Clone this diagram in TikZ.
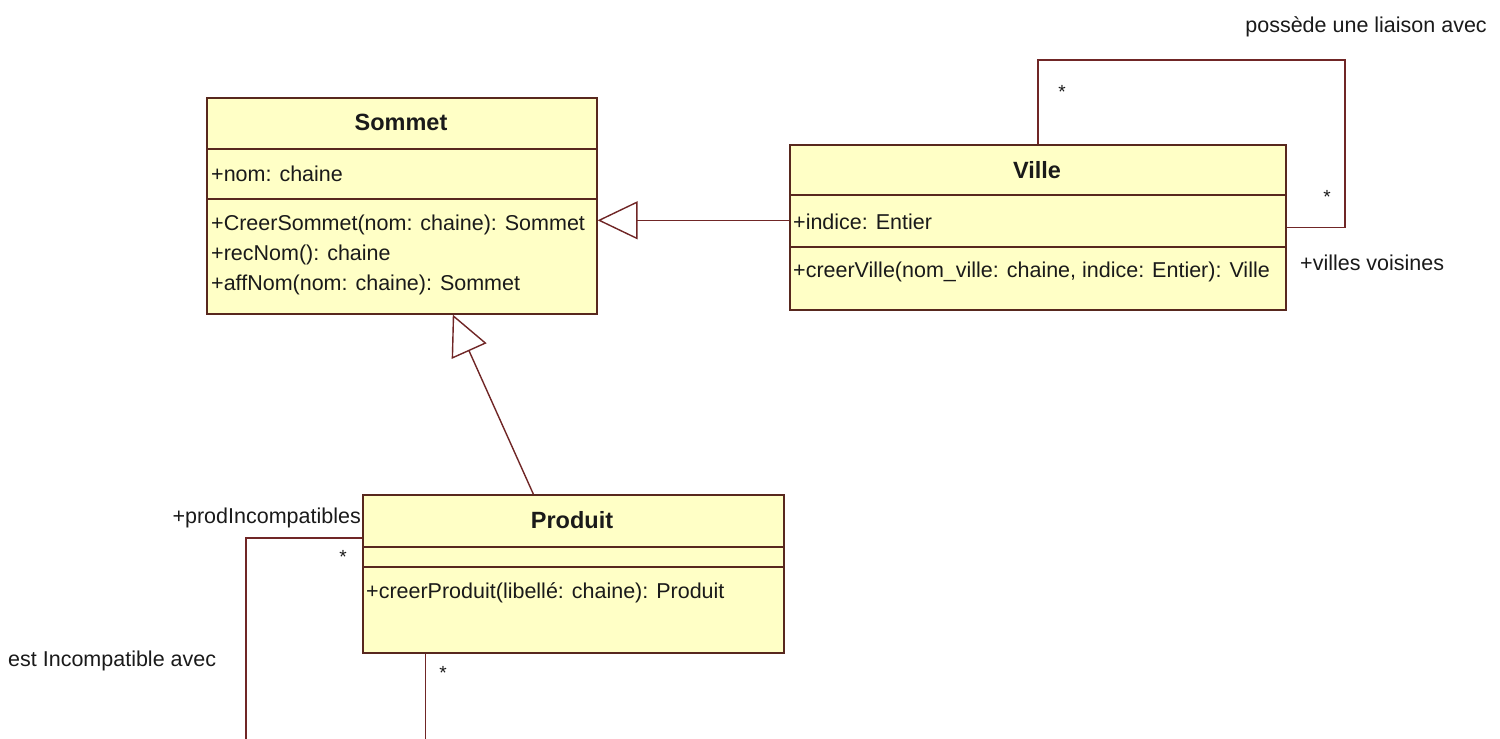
\documentclass[tikz,border=0pt]{standalone}
\usepackage{fontspec}
\setmainfont{Liberation Sans}
\usetikzlibrary{arrows.meta}

\definecolor{classfill}{RGB}{255,255,198}
\definecolor{classline}{RGB}{88,40,30}
\definecolor{assocline}{RGB}{112,38,38}
\definecolor{ink}{RGB}{26,26,26}

\tikzset{
  classbox/.style={draw=classline, fill=classfill, line width=1.6pt,
    rectangle, anchor=north west, inner sep=0pt},
  member/.style={anchor=west, inner sep=0pt, text=ink,
    font=\fontsize{21.5}{26}\selectfont},
  classname/.style={anchor=center, inner sep=0pt, text=ink,
    font=\fontsize{23.5}{28}\selectfont\bfseries},
  label/.style={inner sep=0pt, text=ink, font=\fontsize{21.5}{26}\selectfont},
  mult/.style={inner sep=0pt, text=ink, font=\fontsize{19}{22}\selectfont},
  divider/.style={draw=classline, line width=1.6pt},
  assoc/.style={draw=assocline, line width=1.6pt},
  generalize/.style={draw=assocline, line width=1.4pt,
    -{Triangle[open, length=40pt, width=38pt, fill=white]}},
}

\begin{document}
\begin{tikzpicture}[x=1pt, y=-1pt]
  \useasboundingbox[fill=white] (0,0) rectangle (1500,739);

  % ---- class Sommet ----
  \node[classbox, minimum width=390pt, minimum height=216pt] (sommet) at (206,97) {};
  \draw[divider] (206,149) -- (596,149);
  \draw[divider] (206,199) -- (596,199);
  \node[classname] (sommetTitle) at (401,122) {Sommet};
  \node[member] (sommetA1) at (211,174) {+nom: chaine};
  \node[member] (sommetM1) at (211,225) {+CreerSommet(nom: chaine): Sommet};
  \node[member] (sommetM2) at (211,255) {+recNom(): chaine};
  \node[member] (sommetM3) at (211,285) {+affNom(nom: chaine): Sommet};

  % ---- class Ville ----
  \node[classbox, minimum width=496pt, minimum height=165pt] (ville) at (789,144) {};
  \draw[divider] (789,195) -- (1285,195);
  \draw[divider] (789,247) -- (1285,247);
  \node[classname] (villeTitle) at (1037,170) {Ville};
  \node[member] (villeA1) at (793,222) {+indice: Entier};
  \node[member] (villeM1) at (793,272) {+creerVille(nom\_ville: chaine, indice: Entier): Ville};

  % ---- class Produit ----
  \node[classbox, minimum width=421pt, minimum height=158pt] (produit) at (362,494) {};
  \draw[divider] (362,547) -- (783,547);
  \draw[divider] (362,567) -- (783,567);
  \node[classname] (produitTitle) at (572,520) {Produit};
  \node[member] (produitM1) at (366,593) {+creerProduit(libellé: chaine): Produit};

  % ---- generalizations ----
  \coordinate (villeGen) at ([yshift=7pt]ville.west);
  \draw[generalize] (villeGen) -- (sommet.east |- villeGen);
  \draw[generalize] ([xshift=-40pt]produit.north) -- ([xshift=51pt]sommet.south);

  % ---- reflexive association on Ville ----
  \coordinate (villeLoop) at (1345,60);
  \draw[assoc] (ville.north) |- (villeLoop) |- (ville.east);
  \node[mult] (villeMultA) at (1062,92) {*};
  \node[mult] (villeMultB) at (1327,197) {*};
  \node[label, anchor=east] (villeAssoc) at (1487,27) {possède une liaison avec};
  \node[label, anchor=west] (villeRole) at (1300,263) {+villes voisines};

  % ---- reflexive association on Produit ----
  \coordinate (produitLoop) at (246,746);
  \draw[assoc] ([yshift=36pt]produit.west) -| (produitLoop)
               -| ([xshift=-148pt]produit.south);
  \node[mult] (produitMultA) at (343,557) {*};
  \node[mult] (produitMultB) at (443,673) {*};
  \node[label, anchor=east] (produitRole) at (361,518) {+prodIncompatibles};
  \node[label, anchor=west] (produitAssoc) at (8,661) {est Incompatible avec};
\end{tikzpicture}
\end{document}
